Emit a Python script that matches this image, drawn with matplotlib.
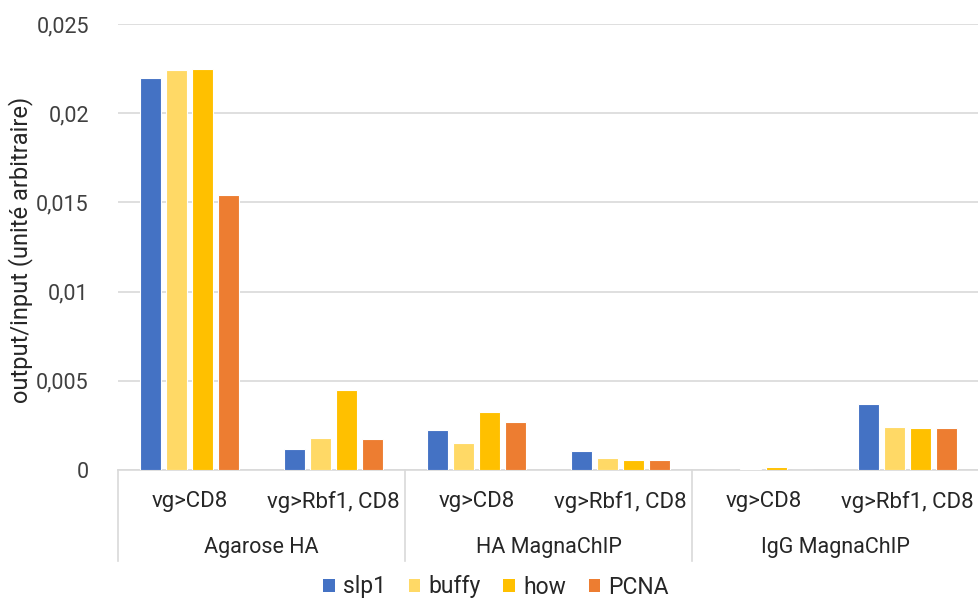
import matplotlib
matplotlib.use("Agg")
import matplotlib.pyplot as plt
import numpy as np
from matplotlib.transforms import blended_transform_factory
from matplotlib.patches import Patch

plt.rcParams['font.family'] = ['Roboto', 'DejaVu Sans']

categories = ["Agarose HA", "HA MagnaChIP", "IgG MagnaChIP"]
subgroups = ["vg>CD8", "vg>Rbf1, CD8"] * 3
series_names = ["slp1", "buffy", "how", "PCNA"]
colors = ["#4472C4", "#FFD966", "#FFC000", "#ED7D31"]
values = {
    "slp1":  [0.0220, 0.00118, 0.00224, 0.00106, 0.0, 0.00372],
    "buffy": [0.0224, 0.00180, 0.00151, 0.00067, 0.00008, 0.00243],
    "how":   [0.0225, 0.00450, 0.00325, 0.00056, 0.00015, 0.00237],
    "PCNA":  [0.0154, 0.00174, 0.00269, 0.00056, 0.0, 0.00234],
}
yticks = [0, 0.005, 0.01, 0.015, 0.02, 0.025]
ytick_labels = ["0", "0,005", "0,01", "0,015", "0,02", "0,025"]
ylabel = "output/input (unité arbitraire)"

W, H = 979, 601
fig = plt.figure(figsize=(W / 100, H / 100), dpi=100)
ax = fig.add_axes([118 / W, 1 - 470 / H, 1 - 118 / W, (470 - 24) / H])

x = np.arange(len(subgroups))
step = 26 / 143.5
width = 21 / 143.5
for i, name in enumerate(series_names):
    ax.bar(x + (i - 1.5) * step, values[name], width=width, color=colors[i],
           edgecolor="white", linewidth=0.8, zorder=3, label=name)

ax.set_xlim(-0.5, 5.5)
ax.set_ylim(0, 0.025)
ax.set_yticks(yticks)
ax.set_yticklabels(ytick_labels, fontsize=15.5, color="#404040")
ax.tick_params(axis="y", length=0, pad=21)
ax.yaxis.grid(True, color="#d9d9d9", linewidth=1.2, zorder=0)
for s in ["top", "right", "left"]:
    ax.spines[s].set_visible(False)
ax.spines["bottom"].set_color("#d9d9d9")
ax.spines["bottom"].set_linewidth(1.2)

ax.set_xticks(x)
ax.set_xticklabels(subgroups, fontsize=16, color="#262626")
ax.tick_params(axis="x", length=0, pad=15)

fig.text(21 / W, 1 - 250 / H, ylabel, rotation=90, ha="center", va="center",
         fontsize=17, color="#262626")

trans = blended_transform_factory(ax.transData, ax.transAxes)
bottom_line = -(561 - 470) / (470 - 24)
for b in [-0.5, 1.5, 3.5, 5.5]:
    ax.plot([b, b], [0, bottom_line], transform=trans, color="#d9d9d9",
            linewidth=1.2, clip_on=False)
cat_y = -(548 - 470) / (470 - 24)
for k, c in enumerate(categories):
    ax.text(2 * k + 0.5, cat_y, c, transform=trans, ha="center", va="center",
            fontsize=15.5, color="#262626")

handles = [Patch(facecolor=colors[i], edgecolor="none", label=n) for i, n in enumerate(series_names)]
fig.legend(handles=handles, loc="center", bbox_to_anchor=(496 / W, 1 - 587 / H), ncol=4,
           frameon=False, fontsize=16.5, handlelength=0.5, handleheight=0.5,
           handletextpad=0.35, columnspacing=1.0, labelcolor="#262626",
           borderpad=0, borderaxespad=0)

fig.savefig("out.png", dpi=100)
